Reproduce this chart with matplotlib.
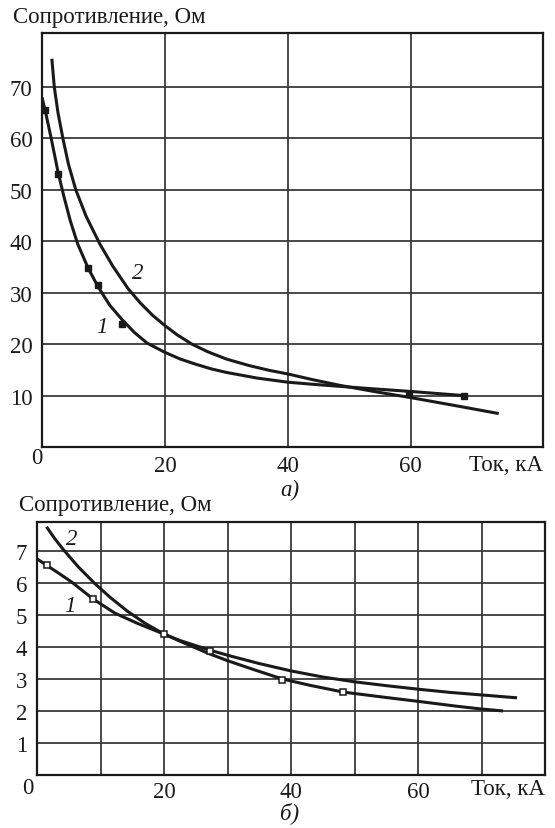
import matplotlib
matplotlib.use("Agg")
import matplotlib.pyplot as plt

plt.rcParams['font.family'] = ['Liberation Serif', 'DejaVu Serif']

# ---------- panel a) ----------
a_xticks = [20, 40, 60]
a_yticks = [10, 20, 30, 40, 50, 60, 70]
a_c1_x = [0.0, 0.6, 1.5, 2.6, 3.5, 4.6, 5.8, 7.5, 9.1, 11.0, 13.0, 15.0, 17.1, 20.0, 22.5,
          25.0, 27.5, 30.0, 35.0, 40.0, 44.0, 48.4, 54.0, 60.0, 68.6]
a_c1_y = [68.0, 65.0, 60.0, 53.5, 49.0, 44.0, 39.5, 34.8, 31.2, 27.6, 24.8, 22.3, 20.2, 18.4, 17.1,
          16.1, 15.2, 14.5, 13.4, 12.6, 12.2, 11.8, 11.3, 10.8, 10.0]
a_c2_x = [1.6, 2.0, 2.6, 3.4, 4.3, 5.5, 7.2, 9.4, 11.5, 14.0, 16.0, 18.0, 20.0, 22.0, 24.4,
          27.0, 30.0, 33.8, 37.0, 40.0, 44.0, 48.4, 54.0, 60.0, 67.0, 74.3]
a_c2_y = [75.5, 70.0, 65.0, 60.0, 55.0, 50.0, 44.8, 39.5, 35.2, 30.8, 28.0, 25.6, 23.6, 21.8, 20.0,
          18.5, 17.1, 15.8, 14.9, 14.2, 13.1, 12.0, 10.8, 9.6, 8.1, 6.5]
a_mk_x = [0.5, 2.6, 7.5, 9.1, 13.0, 59.7, 68.6]
a_mk_y = [65.5, 53.1, 34.8, 31.5, 23.9, 10.4, 10.0]

# ---------- panel б) ----------
b_xticks = [20, 40, 60]
b_xgrid = [10, 20, 30, 40, 50, 60, 70]
b_yticks = [1, 2, 3, 4, 5, 6, 7]
b_c1_x = [0.0, 1.5, 3.5, 5.5, 8.8, 12.3, 16.0, 20.0, 22.5, 24.0, 27.2, 30.0, 34.0, 38.6, 43.0,
          48.2, 55.0, 60.0, 66.0, 70.0, 73.4]
b_c1_y = [6.75, 6.55, 6.29, 6.02, 5.5, 5.05, 4.72, 4.4, 4.18, 4.05, 3.78, 3.57, 3.3, 3.0, 2.8,
          2.59, 2.42, 2.3, 2.15, 2.06, 2.0]
b_c2_x = [1.5, 2.8, 4.1, 6.5, 9.1, 11.5, 14.2, 17.0, 20.0, 22.5, 27.2, 30.0, 35.0, 40.0, 45.0,
          50.0, 55.0, 60.0, 65.0, 70.0, 75.6]
b_c2_y = [7.75, 7.38, 7.05, 6.5, 5.98, 5.55, 5.12, 4.74, 4.4, 4.2, 3.9, 3.74, 3.48, 3.25, 3.06,
          2.91, 2.79, 2.68, 2.58, 2.5, 2.41]
b_mk_x = [1.5, 8.8, 20.0, 27.2, 38.6, 48.2]
b_mk_y = [6.55, 5.5, 4.4, 3.87, 2.97, 2.59]

W, H = 555, 829
fig = plt.figure(figsize=(W / 100, H / 100), dpi=100)

FS = 16.5
ink = '#1a1a1a'
grid_c = '#3a3a3a'


def style(ax, xpad):
    for s in ax.spines.values():
        s.set_linewidth(1.6)
        s.set_color(ink)
    ax.tick_params(length=0, labelsize=FS, colors=ink)
    ax.tick_params(axis='y', pad=7)
    ax.tick_params(axis='x', pad=xpad)


def curve(ax, x, y):
    ax.plot(x, y, color=ink, lw=2.2, solid_capstyle='butt', solid_joinstyle='round')


# top axes
axa = fig.add_axes([42 / W, 1 - 448 / H, (543 - 42) / W, (448 - 34) / H])
axa.set_xlim(0, 81.5)
axa.set_ylim(0, 80.5)
axa.set_xticks(a_xticks)
axa.set_yticks(a_yticks)
axa.grid(True, color=grid_c, lw=1.3)
axa.set_axisbelow(True)
style(axa, 6)
curve(axa, a_c1_x, a_c1_y)
curve(axa, a_c2_x, a_c2_y)
axa.plot(a_mk_x, a_mk_y, ls='none', marker='s', ms=4.6, mfc=ink, mec=ink)
axa.text(9.8, 23.5, '1', style='italic', fontsize=FS, ha='center', va='center', color=ink)
axa.text(15.6, 34.0, '2', style='italic', fontsize=FS, ha='center', va='center', color=ink)
fig.text(13 / W, 1 - 17 / H, 'Сопротивление, Ом', fontsize=FS, ha='left', va='center', color=ink)
fig.text(37 / W, 1 - 459 / H, '0', fontsize=FS, ha='center', va='center', color=ink)
fig.text(543 / W, 1 - 466 / H, 'Ток, кА', fontsize=FS, ha='right', va='center', color=ink)
fig.text(290 / W, 1 - 490 / H, 'а)', fontsize=FS, style='italic', ha='center', va='center', color=ink)

# bottom axes
axb = fig.add_axes([37 / W, 1 - 776 / H, (545 - 37) / W, (776 - 523) / H])
axb.set_xlim(0, 80)
axb.set_ylim(0, 7.9)
axb.set_xticks(b_xgrid)
axb.set_xticklabels([str(v) if v in b_xticks else '' for v in b_xgrid])
axb.set_yticks(b_yticks)
axb.grid(True, color=grid_c, lw=1.3)
axb.set_axisbelow(True)
style(axb, 4)
curve(axb, b_c1_x, b_c1_y)
curve(axb, b_c2_x, b_c2_y)
axb.plot(b_mk_x, b_mk_y, ls='none', marker='s', ms=3.8, mfc='white', mec=ink, mew=1.1)
axb.text(5.2, 5.3, '1', style='italic', fontsize=FS, ha='center', va='center', color=ink)
axb.text(5.5, 7.4, '2', style='italic', fontsize=FS, ha='center', va='center', color=ink)
fig.text(19 / W, 1 - 505 / H, 'Сопротивление, Ом', fontsize=FS, ha='left', va='center', color=ink)
fig.text(28 / W, 1 - 789 / H, '0', fontsize=FS, ha='center', va='center', color=ink)
fig.text(545 / W, 1 - 790 / H, 'Ток, кА', fontsize=FS, ha='right', va='center', color=ink)
fig.text(290 / W, 1 - 813 / H, 'б)', fontsize=FS, style='italic', ha='center', va='center', color=ink)

fig.savefig('out.png', dpi=100, facecolor='white')
